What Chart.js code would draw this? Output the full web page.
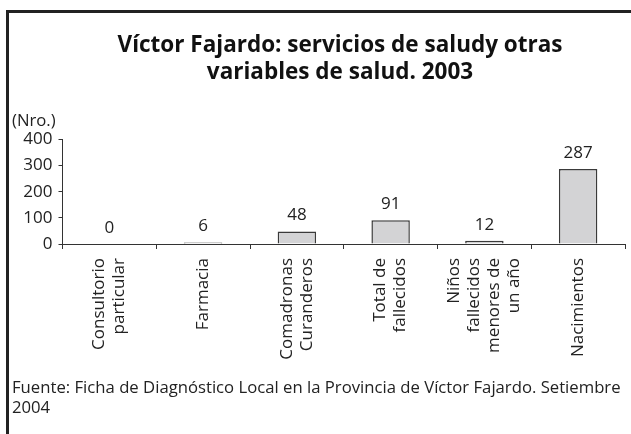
<!DOCTYPE html>
<html>
<head>
<meta charset="utf-8">
<script src="https://cdn.jsdelivr.net/npm/chart.js@4"></script>
<style>
  html, body { margin: 0; padding: 0; background: #fff; overflow: hidden; }
  #wrap { position: relative; width: 631px; height: 434px; overflow: hidden; }
  #chart { position: absolute; left: 0; top: 0; }
  #frame {
    position: absolute; left: 6px; top: 10px; width: 700px; height: 500px;
    border-left: 3px solid #222; border-top: 3px solid #222; pointer-events: none;
  }
  .note { position: absolute; left: 12px; font: 16.7px "Open Sans", sans-serif; color: #222; line-height: 20px; }
</style>
</head>
<body>
<div id="wrap">
  <canvas id="chart" width="680" height="434"></canvas>
  <div id="frame"></div>
  <div class="note" style="top:110px">(Nro.)</div>
  <div class="note" style="top:377px">Fuente: Ficha de Diagnóstico Local en la Provincia de Víctor Fajardo. Setiembre<br>2004</div>
</div>
<script>
  // data
  const titleLines = ["Víctor Fajardo: servicios de saludy otras", "variables de salud. 2003"];
  const categories = [
    ["Consultorio", "particular"],
    ["Farmacia"],
    ["Comadronas", "Curanderos"],
    ["Total de", "fallecidos"],
    ["Niños", "fallecidos", "menores de", "un año"],
    ["Nacimientos"],
  ];
  const values = [0, 6, 48, 91, 12, 287];
  const yMin = 0;
  const yMax = 400;
  const yStep = 100;

  const ink = "#222";
  const font = "'Open Sans', sans-serif";

  // title is centred on the original frame, not on the plot box
  const frameTitle = {
    id: "frameTitle",
    afterDraw(chart) {
      const ctx = chart.ctx;
      ctx.save();
      ctx.font = "bold 22.5px " + font;
      ctx.fillStyle = "#111";
      ctx.textAlign = "center";
      ctx.textBaseline = "middle";
      titleLines.forEach((t, i) => ctx.fillText(t, 340, 45.5 + i * 27.5));
      ctx.restore();
    },
  };

  // numbers above the bars
  const valueLabels = {
    id: "valueLabels",
    afterDatasetsDraw(chart) {
      const ctx = chart.ctx;
      const meta = chart.getDatasetMeta(0);
      ctx.save();
      ctx.font = "17px " + font;
      ctx.fillStyle = ink;
      ctx.textAlign = "center";
      ctx.textBaseline = "middle";
      meta.data.forEach((bar, i) => {
        ctx.fillText(String(values[i]), bar.x, bar.y - 16);
      });
      ctx.restore();
    },
  };

  // rotated, centred multi-line category labels
  const categoryLabels = {
    id: "categoryLabels",
    afterDraw(chart) {
      const ctx = chart.ctx;
      const xs = chart.scales.x;
      const lineH = 20;
      ctx.save();
      ctx.font = "17px " + font;
      ctx.fillStyle = ink;
      ctx.textAlign = "right";
      ctx.textBaseline = "middle";
      categories.forEach((lines, i) => {
        const px = xs.getPixelForValue(i);
        lines.forEach((line, j) => {
          ctx.save();
          ctx.translate(px + (j - (lines.length - 1) / 2) * lineH, xs.top + 14);
          ctx.rotate(-Math.PI / 2);
          ctx.fillText(line, 0, 0);
          ctx.restore();
        });
      });
      ctx.restore();
    },
  };

  new Chart(document.getElementById("chart"), {
    type: "bar",
    data: {
      labels: categories.map(l => l.join(" ")),
      datasets: [
        {
          data: values,
          backgroundColor: "#d3d3d5",
          borderColor: "#3a3a3a",
          borderWidth: 1.5,
          barPercentage: 0.41,
          categoryPercentage: 1,
        },
      ],
    },
    options: {
      responsive: false,
      animation: false,
      devicePixelRatio: 1,
      layout: { padding: { top: 139.5, left: 0, right: 55, bottom: 70 } },
      plugins: {
        legend: { display: false },
        tooltip: { enabled: false },
        title: { display: false },
      },
      scales: {
        x: {
          grid: { offset: true, drawOnChartArea: false, tickLength: 5, color: "#333" },
          border: { color: "#333" },
          ticks: { display: false },
          afterFit(scale) { scale.height = 120; },
        },
        y: {
          min: yMin,
          max: yMax,
          grid: { drawOnChartArea: false, tickLength: 4, color: "#333" },
          border: { color: "#333" },
          ticks: {
            stepSize: yStep,
            padding: 6,
            color: ink,
            font: { family: font, size: 17 },
          },
          afterFit(scale) { scale.width = 62.5; },
        },
      },
    },
    plugins: [frameTitle, valueLabels, categoryLabels],
  });
</script>
</body>
</html>
